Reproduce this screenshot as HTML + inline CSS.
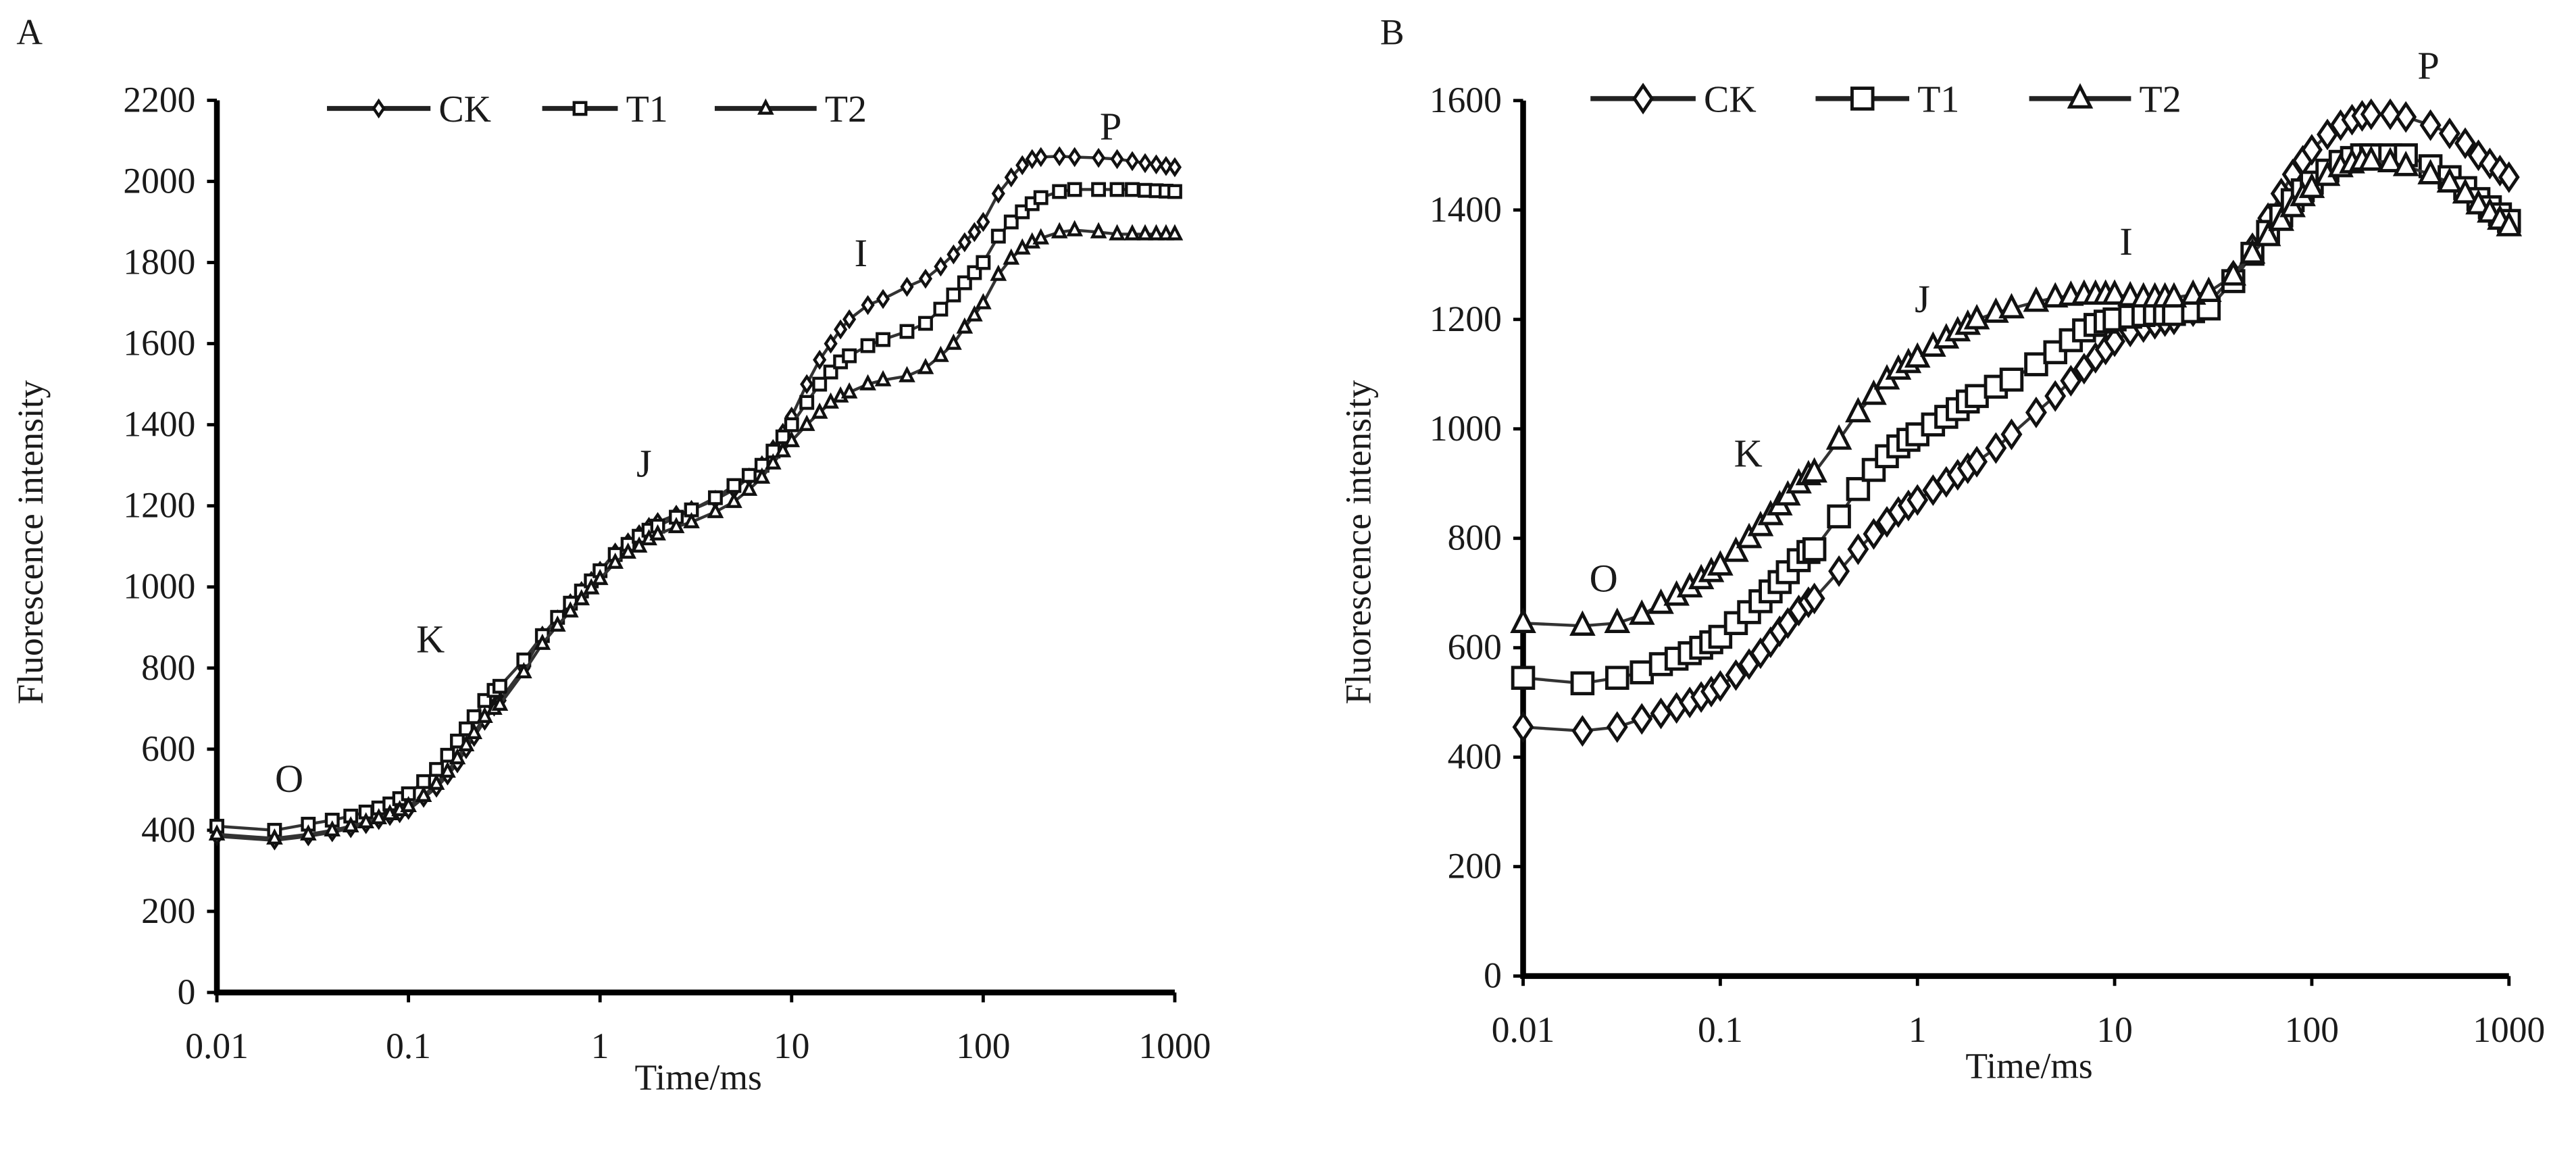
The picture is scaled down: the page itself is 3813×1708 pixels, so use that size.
<!DOCTYPE html>
<html><head><meta charset="utf-8">
<style>
html,body{margin:0;padding:0;background:#fff;}
svg{display:block;}
text{font-family:"Liberation Serif",serif;fill:#1a1a1a;}
</style></head>
<body>
<svg id="fig" width="3813" height="1708" viewBox="0 0 1567.8 702.3" preserveAspectRatio="none" xmlns="http://www.w3.org/2000/svg"></svg>
<script>
const times = [0.01,0.02,0.03,0.04,0.05,0.06,0.07,0.08,0.09,0.1,
  0.12,0.14,0.16,0.18,0.2,0.22,0.25,0.28,0.3,
  0.4,0.5,0.6,0.7,0.8,0.9,1,
  1.2,1.4,1.6,1.8,2,2.5,3,
  4,5,6,7,8,9,10,
  12,14,16,18,20,25,30,
  40,50,60,70,80,90,100,
  120,140,160,180,200,250,300,
  400,500,600,700,800,900,1000];
const seriesNames = ["CK","T1","T2"];
const aCK = [385,375,385,395,405,415,425,435,442,450,
  480,505,535,565,600,630,670,705,720,
  800,880,920,960,990,1015,1040,
  1085,1110,1130,1148,1160,1178,1190,
  1215,1240,1270,1300,1340,1380,1420,
  1500,1560,1600,1635,1660,1695,1710,
  1740,1760,1790,1820,1850,1875,1900,
  1970,2010,2040,2055,2060,2062,2060,
  2058,2055,2050,2045,2042,2038,2035];
const aT1 = [410,400,415,425,435,445,455,465,478,490,
  520,550,585,620,650,680,720,745,755,
  820,880,925,960,990,1015,1040,
  1080,1105,1125,1140,1150,1172,1190,
  1220,1250,1275,1300,1335,1370,1400,
  1455,1500,1530,1555,1570,1595,1610,
  1630,1650,1685,1720,1750,1775,1800,
  1865,1900,1925,1945,1960,1975,1980,
  1980,1980,1980,1978,1977,1976,1975];
const aT2 = [390,380,390,400,410,420,430,440,450,460,
  485,515,545,578,610,640,680,700,710,
  790,860,905,940,970,997,1020,
  1060,1085,1100,1118,1130,1148,1160,
  1185,1210,1240,1270,1305,1335,1360,
  1400,1430,1455,1470,1480,1500,1510,
  1520,1540,1570,1600,1640,1670,1700,
  1770,1810,1835,1850,1860,1875,1880,
  1875,1870,1870,1870,1870,1870,1870];
const bCK = [455,448,455,470,480,490,500,510,520,530,
  550,570,590,610,630,645,668,683,690,
  740,780,808,830,848,860,870,
  888,903,916,928,940,965,990,
  1030,1060,1088,1110,1130,1145,1160,
  1178,1186,1192,1197,1200,1215,1230,
  1280,1330,1385,1430,1465,1490,1510,
  1538,1555,1565,1572,1575,1575,1570,
  1555,1540,1522,1500,1485,1472,1460];
const bT1 = [545,535,545,555,570,580,590,600,610,620,
  645,665,685,703,720,738,760,775,780,
  840,890,925,950,968,980,990,
  1008,1022,1036,1050,1060,1077,1090,
  1118,1140,1162,1180,1190,1196,1200,
  1205,1208,1210,1210,1210,1215,1220,
  1270,1320,1360,1390,1418,1436,1450,
  1472,1488,1495,1500,1500,1500,1500,
  1480,1460,1440,1420,1405,1392,1380];
const bT2 = [645,640,645,660,680,695,710,725,738,750,
  775,800,822,842,860,878,900,915,920,
  980,1030,1062,1090,1108,1120,1130,
  1150,1165,1178,1190,1200,1212,1220,
  1232,1240,1243,1245,1245,1245,1245,
  1242,1240,1240,1240,1240,1245,1250,
  1280,1320,1352,1380,1405,1425,1440,
  1462,1478,1485,1490,1490,1487,1480,
  1465,1450,1430,1410,1395,1382,1370];
const xTicks = [0.01,0.1,1,10,100,1000];
const xTickLabels = ["0.01","0.1","1","10","100","1000"];
const aYTicks = [0,200,400,600,800,1000,1200,1400,1600,1800,2000,2200];
const bYTicks = [0,200,400,600,800,1000,1200,1400,1600];

const NS="http://www.w3.org/2000/svg";
const svg=document.getElementById('fig');
function mk(tag,attrs,parent){const e=document.createElementNS(NS,tag);for(const k in attrs)e.setAttribute(k,attrs[k]);(parent||svg).appendChild(e);return e;}
function txt(s,x,y,size,anchor,parent){const t=mk('text',{x:x,y:y,'font-size':size,'text-anchor':anchor||'middle'},parent);t.textContent=s;return t;}
function marker(shape,x,y,r,sw,parent){
  let e;
  if(shape==="CK") e=mk('polygon',{points:`${x},${y-r*1.25} ${x+r*0.85},${y} ${x},${y+r*1.25} ${x-r*0.85},${y}`,fill:'#fff',stroke:'#111','stroke-width':sw},parent);
  else if(shape==="T1") e=mk('rect',{x:x-r,y:y-r,width:2*r,height:2*r,fill:'#fff',stroke:'#111','stroke-width':sw},parent);
  else e=mk('polygon',{points:`${x},${y-r*1.15} ${x+r},${y+r*0.8} ${x-r},${y+r*0.8}`,fill:'#fff',stroke:'#111','stroke-width':sw},parent);
  return e;
}
function panel(cfg){
  const g=mk('g',{});
  
  
  const xS=v=>cfg.x0+(Math.log10(v)+2)*cfg.dec;
  const yS=v=>cfg.y0-v*cfg.ppu;
  const ax=mk('path',{d:`M${cfg.x0},${yS(cfg.yMax)} V${cfg.y0} H${xS(1000)}`,fill:'none',stroke:'#000','stroke-width':3.5},g);
  
  
  cfg.yTicks.forEach(v=>{
    mk('line',{x1:cfg.x0-6,x2:cfg.x0,y1:yS(v),y2:yS(v),stroke:'#000','stroke-width':2},g);
    const t=txt(String(v),cfg.x0-13,yS(v)+7,22,'end',g);
    
    
  });
  xTicks.forEach((v,i)=>{
    mk('line',{x1:xS(v),x2:xS(v),y1:cfg.y0,y2:cfg.y0+6,stroke:'#000','stroke-width':2},g);
    const t=txt(xTickLabels[i],xS(v),cfg.y0+40,22,'middle',g);
    
    
  });
  const xt=txt('Time/ms',cfg.xTitle[0],cfg.xTitle[1],22,'middle',g);
  
  
  const yt=txt('Fluorescence intensity',0,0,22,'middle',g);
  yt.setAttribute('transform',`translate(${cfg.yTitle[0]},${cfg.yTitle[1]}) rotate(-90)`);
  
  
  cfg.series.forEach((vals,si)=>{
    const sg=mk('g',{},g);
    
    
    const pts=times.map((t,i)=>xS(t)+','+yS(vals[i])).join(' ');
    mk('polyline',{points:pts,fill:'none',stroke:'#333','stroke-width':1.8},sg);
    times.forEach((t,i)=>{
      const m=marker(seriesNames[si],xS(t),yS(vals[i]),cfg.mr,cfg.sw,sg);
      
      
    });
  });
  const lg=mk('g',{},g);
  
  
  cfg.legend.forEach((L,i)=>{
    const eg=mk('g',{},lg);
    
    
    mk('line',{x1:L[0],x2:L[1],y1:cfg.legY,y2:cfg.legY,stroke:'#222','stroke-width':3},eg);
    marker(seriesNames[i],(L[0]+L[1])/2,cfg.legY,cfg.mr,cfg.sw,eg);
    txt(seriesNames[i],L[1]+5,cfg.legY+8,23,'start',eg);
  });
  cfg.phases.forEach(p=>{
    const t=txt(p[0],p[1],p[2],24,'middle',g);
    
    
  });
  const pl=txt(cfg.letter[0],cfg.letter[1],cfg.letter[2],22,'start',g);
  
  
}
panel({name:'panel-a',x0:132,dec:116.6,y0:604,ppu:49.36/200,yMax:2200,yTicks:aYTicks,
  series:[aCK,aT1,aT2],mr:3.6,sw:1.8,xTitle:[425,663],yTitle:[26,330],
  legend:[[199,262],[330,376],[435,497]],legY:66,
  phases:[["O",176,482],["K",262,397],["J",392,290],["I",524,162],["P",676,85]],letter:["A",10,27]});
panel({name:'panel-b',x0:927,dec:120,y0:594,ppu:66.6/200,yMax:1600,yTicks:bYTicks,
  series:[bCK,bT1,bT2],mr:6.3,sw:2,xTitle:[1235,656],yTitle:[834,330],
  legend:[[968,1032],[1105,1162],[1235,1297]],legY:60,
  phases:[["O",976,360],["K",1064,284],["J",1170,190],["I",1294,155],["P",1478,48]],letter:["B",840,27]});
</script>
</body></html>
